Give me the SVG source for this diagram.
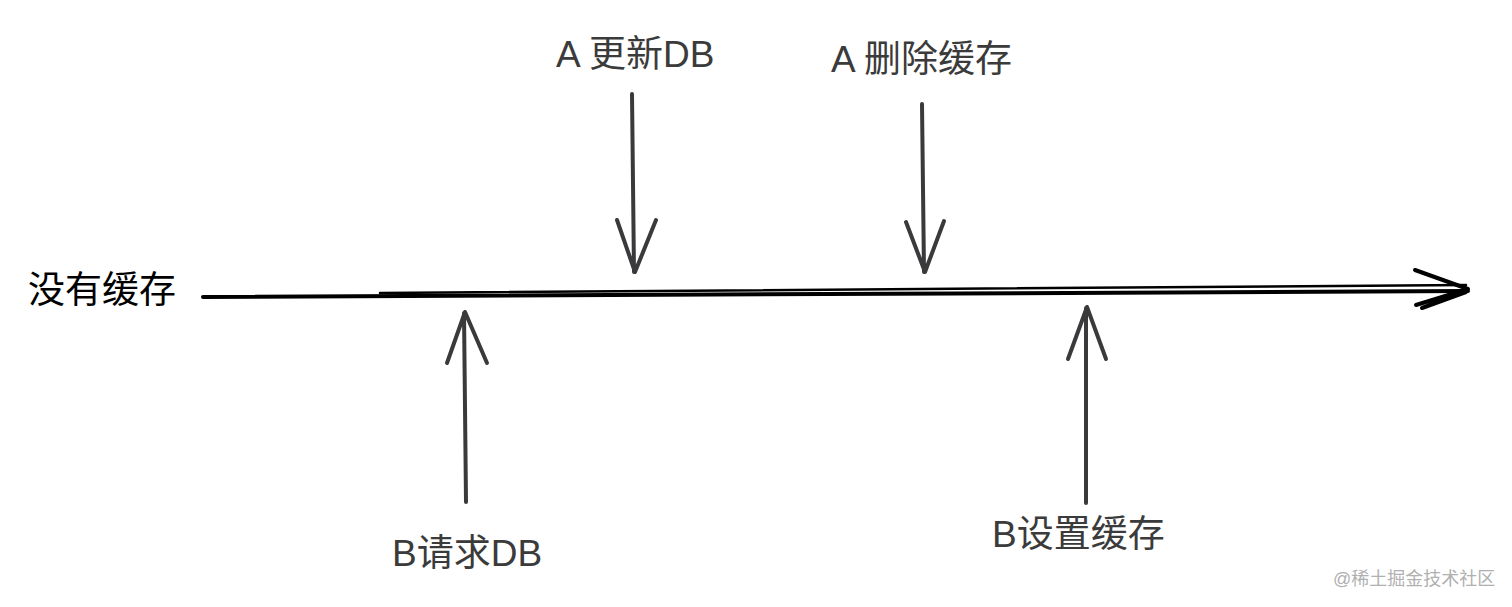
<svg xmlns="http://www.w3.org/2000/svg" width="1512" height="607" viewBox="0 0 1512 607">
<style>
.lbl{font-family:"Liberation Sans","Noto Sans CJK SC",sans-serif;font-size:37px;fill:#3b3b3b}
.arr{fill:none;stroke:#3a3a3c;stroke-width:4;stroke-linecap:round;stroke-linejoin:round}
.main{fill:none;stroke:#000;stroke-linecap:round;stroke-linejoin:round}
</style>
<rect width="1512" height="607" fill="#fff"/>
<g id="timeline">
<text class="lbl" x="28" y="303" style="fill:#000">没有缓存</text>
</g>
<g id="connectors">
<path class="main" d="M203,297 L1468,291" stroke-width="4"/>
<path class="main" d="M380,293 L1466,285" stroke-width="2.5"/>
<path class="main" d="M1415,270 L1468,289 L1416,305 M1422,308 L1466,292" stroke-width="4"/>
<path class="arr" d="M632,94 L634,272 M617,220 L635,272 L656,220"/>
<path class="arr" d="M922,104 L924,272 M906,222 L925,272 L944,221"/>
<path class="arr" d="M466,502 L464,313 M447,363 L465,312 L487,363"/>
<path class="arr" d="M1086,503 L1086,308 M1068,359 L1087,307 L1106,359"/>
</g>
<g id="a-update-db"><text class="lbl" x="556" y="67">A 更新DB</text></g>
<g id="a-delete-cache"><text class="lbl" x="831" y="72">A 删除缓存</text></g>
<g id="b-request-db"><text class="lbl" x="392" y="566">B请求DB</text></g>
<g id="b-set-cache"><text class="lbl" x="992" y="547">B设置缓存</text></g>
<text x="1333" y="585" style="font-family:'Liberation Sans','Noto Sans CJK SC',sans-serif;font-size:18px;fill:#b0b0b0">@稀土掘金技术社区</text>
</svg>
